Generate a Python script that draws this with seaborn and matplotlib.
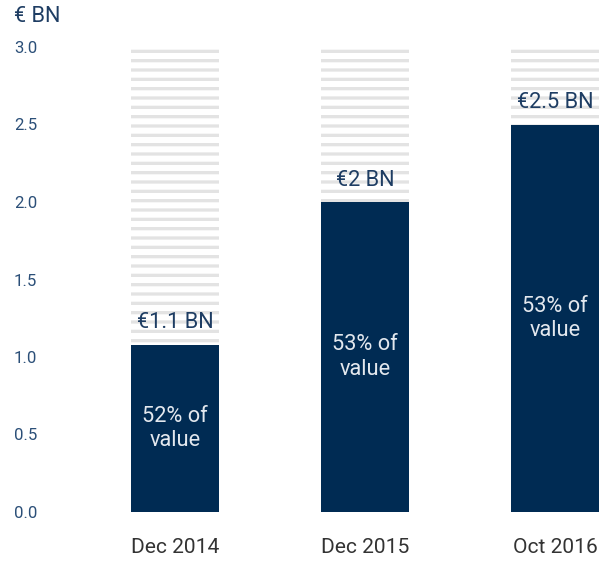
import pandas as pd
import matplotlib.pyplot as plt
import seaborn as sns

# values
periods = ['Dec 2014', 'Dec 2015', 'Oct 2016']
values = [1.08, 2.0, 2.5]
ceiling = [3.0, 3.0, 3.0]
value_labels = ['€1.1 BN', '€2 BN', '€2.5 BN']
share_labels = ['52% of\nvalue', '53% of\nvalue', '53% of\nvalue']
yticks = [0.0, 0.5, 1.0, 1.5, 2.0, 2.5, 3.0]

df = pd.DataFrame({'period': periods, 'value': values, 'ceiling': ceiling})

sns.set_style('white')
plt.rcParams['font.family'] = ['Roboto', 'DejaVu Sans']
plt.rcParams['hatch.linewidth'] = 2.1

navy = '#002b53'
DPI = 112
fig = plt.figure(figsize=(606 / DPI, 561 / DPI), dpi=DPI)
ax = fig.add_axes([60 / 606, 49 / 561, 546 / 606, 465 / 561])

# striped background bars up to 3.0
sns.barplot(data=df, x='period', y='ceiling', color='white', width=0.46,
            hatch='--', edgecolor='#e3e3e3', linewidth=0, saturation=1, ax=ax)
# actual values
sns.barplot(data=df, x='period', y='value', color=navy, width=0.46,
            linewidth=0, saturation=1, ax=ax)

for i, (v, lab, share) in enumerate(zip(values, value_labels, share_labels)):
    ax.annotate(lab, (i, v), xytext=(0, 14), textcoords='offset points',
                ha='center', va='center', fontsize=14, color='#1e3d63')
    ax.text(i, v / 2, share, ha='center', va='center', fontsize=14,
            color='#e3e8ee', linespacing=1.2)

ax.set_xlim(-115 / 190, 431 / 190)
ax.set_ylim(0, 3.0)
ax.set_yticks(yticks)
ax.set_yticklabels([f'{t:.1f}' for t in yticks], fontsize=10.8, color='#2b4f78')
for t in ax.get_yticklabels():
    t.set_horizontalalignment('left')
ax.tick_params(axis='y', length=0, pad=46 * 72 / DPI)
ax.tick_params(axis='x', length=0, pad=17, labelsize=13.5, labelcolor='#333333')
ax.set_xlabel('')
ax.set_ylabel('')
sns.despine(ax=ax, left=True, bottom=True)

fig.text(14 / 606, 1 - 17 / 561, '€ BN', ha='left', va='center',
         fontsize=14, color='#1e3d63')

fig.savefig('out.png', dpi=DPI)
